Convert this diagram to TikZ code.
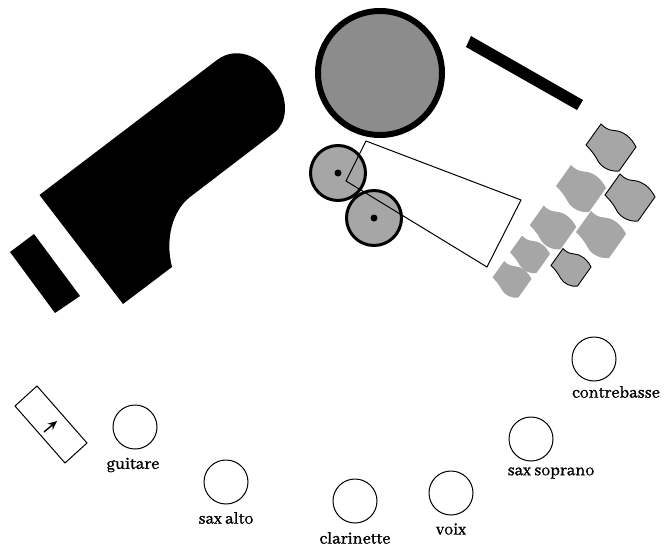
\documentclass[tikz,border=0pt]{standalone}
\usepackage{fontspec}
\setmainfont[FakeBold=1.2]{Abhaya Libre}
\usepackage{tikz}
\usetikzlibrary{arrows.meta}
\definecolor{drumgray}{HTML}{8C8C8C}
\definecolor{tomgray}{HTML}{A6A6A6}
\tikzset{
	spot/.style={draw,circle,line width=1pt,minimum size=44pt,inner sep=0pt},
	playerlabel/.style={font=\fontsize{18}{19}\selectfont,inner sep=0pt},
	tom/.style={draw=black,fill=tomgray,line width=3pt},
	hitpad/.style={fill=tomgray,line width=.9pt}
}
\newcommand{\hitshape}{(-25,-2) -- (-10,-23) .. controls (-6,-19) and (-3,-17) .. (3,-16.5) .. controls (12,-16) and (20,-10) .. (25,0) -- (8,24) .. controls (0,25) and (-9,21) .. (-13,14) .. controls (-16,8) and (-20,3) .. (-25,-2) -- cycle}
\begin{document}
\begin{tikzpicture}[x=1pt,y=-1pt]
	\useasboundingbox (0,0) rectangle (665,552);
	% piano and bench
	\fill (39.5,195) -- (217,60) .. controls (238,44) and (266,58) .. (279,85) .. controls (288,103) and (287,122) .. (275,132) -- (190,197) .. controls (172,211) and (165,240) .. (172,267) -- (123,304) -- cycle;
	\fill (10,252)--(34,234)--(80,296)--(55,313)--cycle;
	% big drum and bar
	\draw[fill=drumgray,line width=6pt] (380,73) circle (62);
	\fill (466,47)--(471,36)--(583,100)--(577,110)--cycle;
	% keyboard outline
	\draw[tom] (338,173) circle (27.5);
	\draw[tom] (374,218) circle (27.5);
	\fill (338,173) circle (3.5);
	\fill (374,218) circle (3.5);
	\draw[line width=1pt] (366,141)--(521,200)--(487,267)--(346,181)--cycle;
	% pads on the right
	\draw[hitpad,shift={(611,147)}] \hitshape;
	\draw[hitpad,shift={(630,197)}] \hitshape;
	\fill[tomgray,shift={(581,188)}] \hitshape;
	\fill[tomgray,shift={(601,234)}] \hitshape;
	\fill[tomgray,shift={(553,227)},scale=.93] \hitshape;
	\fill[tomgray,shift={(530,254)},scale=.8] \hitshape;
	\draw[hitpad,shift={(571,267)},scale=.8] \hitshape;
	\fill[tomgray,shift={(512,279)},scale=.78] \hitshape;
	% amp with arrow
	\draw[line width=1pt] (37,386)--(15,406)--(65,463)--(87,443)--cycle;
	\coordinate (ampfoot) at (44,432);
	\coordinate (amptip) at (57,421);
	\draw[-{Stealth[length=9pt,width=8pt]},line width=1.4pt] (ampfoot)--(amptip);
	% players
	\node[spot] (guitare) at (135,427) {};
	\node[spot] (saxalto) at (226,482) {};
	\node[spot] (clarinette) at (355,501) {};
	\node[spot] (voix) at (451,493) {};
	\node[spot] (saxsoprano) at (531,439) {};
	\node[spot] (contrebasse) at (594,359) {};
	\node[playerlabel] (guitarelabel) at (133,465) {guitare};
	\node[playerlabel] (saxaltolabel) at (226,518) {sax alto};
	\node[playerlabel] (clarinettelabel) at (355,538) {clarinette};
	\node[playerlabel] (voixlabel) at (451,529) {voix};
	\node[playerlabel] (saxsopranolabel) at (551,473) {sax soprano};
	\node[playerlabel] (contrebasselabel) at (616,392) {contrebasse};
\end{tikzpicture}
\end{document}
